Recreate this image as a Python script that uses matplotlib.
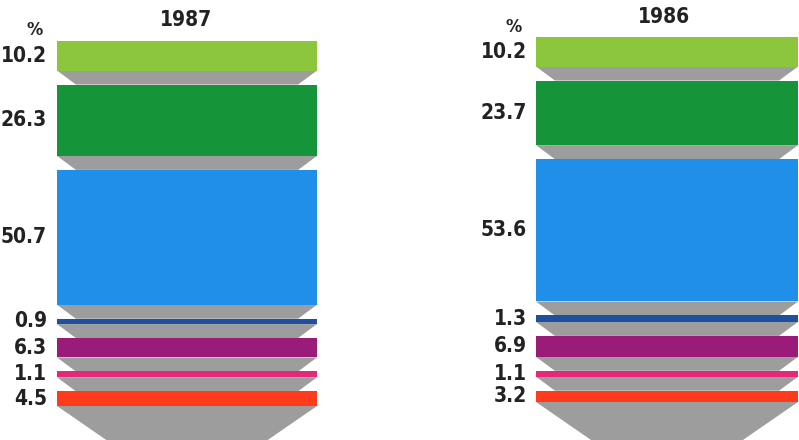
import matplotlib
matplotlib.use("Agg")
import matplotlib.pyplot as plt
from matplotlib.patches import Polygon, Rectangle

# Share of each segment, top to bottom (%)
years = ["1987", "1986"]
values_1987 = [10.2, 26.3, 50.7, 0.9, 6.3, 1.1, 4.5]
values_1986 = [10.2, 23.7, 53.6, 1.3, 6.9, 1.1, 3.2]
labels_1987 = ["10.2", "26.3", "50.7", "0.9", "6.3", "1.1", "4.5"]
labels_1986 = ["10.2", "23.7", "53.6", "1.3", "6.9", "1.1", "3.2"]

seg_colors = ["#8cc63c", "#15943a", "#1f8fea", "#1f4f9f",
              "#9a1c78", "#e6287a", "#ff3b1c"]
gray = "#9d9d9d"
text_color = "#222222"

# layout in pixel-like units of the drawing axes
W, H = 799, 440
columns = [
    dict(year=years[0], values=values_1987, labels=labels_1987,
         x0=57, x1=317, top=41, label_x=47, pct_x=35, pct_y=30, year_x=186, year_y=20),
    dict(year=years[1], values=values_1986, labels=labels_1986,
         x0=536, x1=798, top=37, label_x=527, pct_x=514, pct_y=27, year_x=664, year_y=17),
]
base_h = 3.0      # minimum slab thickness
scale = 2.6       # thickness per percentage point
gap = 14          # height of the grey funnel section between slabs
slope = 1.35      # inward slant of the funnel sides
tail_slope = 1.45

font = dict(family="DejaVu Sans", fontstretch="condensed",
            fontweight="bold", color=text_color)

fig = plt.figure(figsize=(W / 100, H / 100), dpi=100)
ax = fig.add_axes([0, 0, 1, 1])
ax.set_xlim(0, W)
ax.set_ylim(H, 0)
ax.axis("off")

for col in columns:
    x0, x1 = col["x0"], col["x1"]
    y = col["top"]
    n = len(col["values"])
    for i, (v, lab) in enumerate(zip(col["values"], col["labels"])):
        h = base_h + scale * v
        ax.add_patch(Rectangle((x0, y), x1 - x0, h, facecolor=seg_colors[i],
                               edgecolor="none", zorder=3))
        ax.text(col["label_x"], y + h / 2, lab, ha="right", va="center",
                fontsize=15, **font)
        yb = y + h
        if i < n - 1:
            d = gap * slope
            ax.add_patch(Polygon([(x0, yb), (x1, yb), (x1 - d, yb + gap), (x0 + d, yb + gap)],
                                 closed=True, facecolor=gray, edgecolor="none", zorder=2))
            y = yb + gap
        else:
            half = (x1 - x0) / 2
            depth = half / tail_slope
            ax.add_patch(Polygon([(x0, yb), (x1, yb), (x0 + half, yb + depth)],
                                 closed=True, facecolor=gray, edgecolor="none", zorder=2))
    ax.text(col["pct_x"], col["pct_y"], "%", ha="center", va="center", fontsize=13, **font)
    ax.text(col["year_x"], col["year_y"], col["year"], ha="center", va="center",
            fontsize=15, **font)

fig.savefig("out.png", dpi=100, facecolor="white")
